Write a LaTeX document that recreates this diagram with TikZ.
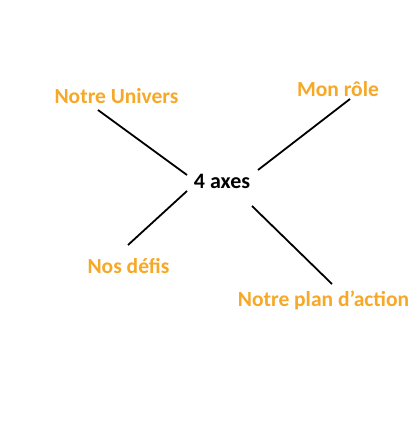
\documentclass[tikz,border=0pt]{standalone}
\usepackage{fontspec}
\setmainfont{Carlito}
\definecolor{lbl}{RGB}{247,168,38}
\begin{document}
\begin{tikzpicture}[x=1pt,y=-1pt,
  lab/.style={text=lbl,font=\fontsize{21.5}{24}\selectfont\bfseries,inner sep=0pt},
  ctr/.style={text=black,font=\fontsize{22}{25}\selectfont\bfseries,inner sep=0pt},
  conn/.style={draw=black,line width=1.8pt}]
\useasboundingbox[fill=white] (0,0) rectangle (412,432);
\node[ctr] (c) at (222,181) {4 axes};
\node[lab] (u) at (116.5,96) {Notre Univers};
\node[lab] (r) at (338,89) {Mon rôle};
\node[lab] (d) at (128.5,266) {Nos défis};
\node[lab] (p) at (323.5,300) {Notre plan d'action};
\coordinate (u1) at (98,110); \coordinate (u2) at (187,175);
\coordinate (r1) at (350,99); \coordinate (r2) at (258,170);
\coordinate (d1) at (187,191); \coordinate (d2) at (128,245);
\coordinate (p1) at (252,206); \coordinate (p2) at (332,284);
\draw[conn] (u1) -- (u2);
\draw[conn] (r1) -- (r2);
\draw[conn] (d1) -- (d2);
\draw[conn] (p1) -- (p2);
\end{tikzpicture}
\end{document}
